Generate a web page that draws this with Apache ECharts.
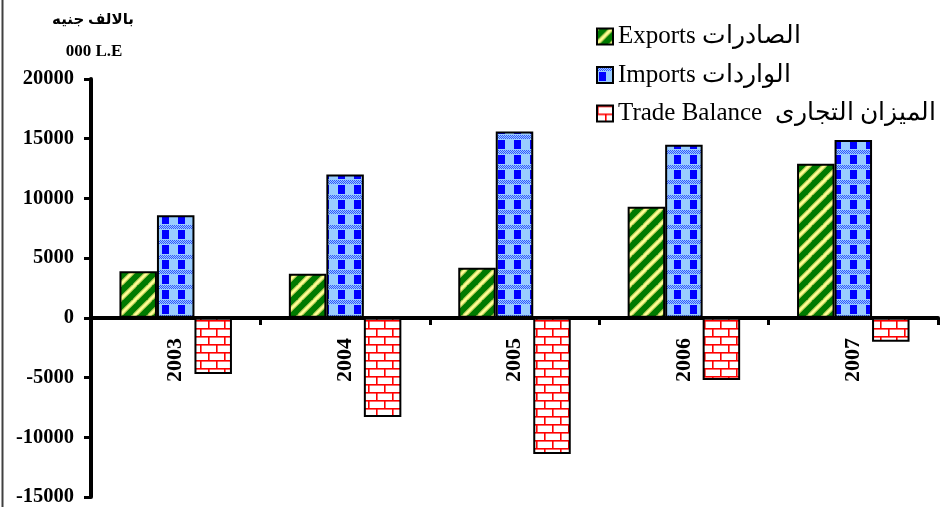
<!DOCTYPE html>
<html>
<head>
<meta charset="utf-8">
<script src="https://cdn.jsdelivr.net/npm/echarts@6/dist/echarts.min.js"></script>
<style>html,body{margin:0;padding:0;background:#fff}#c{width:941px;height:507px}</style>
</head>
<body>
<div id="c"></div>
<script>
var years = ['2003', '2004', '2005', '2006', '2007'];
var exportsData = [3900, 3700, 4200, 9300, 12900];
var importsData = [8600, 12000, 15600, 14500, 14900];
var balanceData = [-4700, -8300, -11400, -5200, -2000];
var seriesNames = ['Exports الصادرات', 'Imports الواردات', 'Trade Balance  الميزان التجارى'];
var unitAr = 'بالالف جنيه';
var unitEn = '000 L.E';

function makeCanvas(w, h) {
  var c = document.createElement('canvas');
  c.width = w; c.height = h;
  return c;
}
// green with yellow diagonal stripes
function exportsPattern() {
  var s = 15, c = makeCanvas(s, s), g = c.getContext('2d');
  g.fillStyle = '#007a00'; g.fillRect(0, 0, s, s);
  g.strokeStyle = '#c8d860'; g.lineWidth = 4.5;
  for (var k = -1; k <= 1; k++) {
    g.beginPath(); g.moveTo(k * s - 1, s + 1); g.lineTo(k * s + s + 1, -1); g.stroke();
  }
  g.strokeStyle = '#ffff99'; g.lineWidth = 2;
  for (var k2 = -1; k2 <= 1; k2++) {
    g.beginPath(); g.moveTo(k2 * s - 1, s + 1); g.lineTo(k2 * s + s + 1, -1); g.stroke();
  }
  return c;
}
// light blue with blue squares and dotted bands
function importsPattern() {
  var w = 16, h = 15, c = makeCanvas(w, h), g = c.getContext('2d');
  g.fillStyle = '#99ccff'; g.fillRect(0, 0, w, h);
  g.fillStyle = '#3355ff';
  for (var y = 0; y < 4; y++) {
    for (var x = 0; x < w; x++) {
      if ((x + y) % 2 === 0) g.fillRect(x, y, 1, 1);
    }
  }
  g.fillStyle = '#0000ff';
  g.fillRect(2, 5, 7, 9);
  return c;
}
// white with red bricks
function balancePattern() {
  var w = 16, h = 16, c = makeCanvas(w, h), g = c.getContext('2d');
  g.fillStyle = '#ffffff'; g.fillRect(0, 0, w, h);
  g.fillStyle = '#ff0000';
  g.fillRect(0, 0, w, 1.6);
  g.fillRect(0, 8, w, 1.6);
  g.fillRect(0, 0, 1.6, 8);
  g.fillRect(8, 8, 1.6, 8);
  return c;
}

var chart = echarts.init(document.getElementById('c'));
var font = "'Liberation Serif', 'Times New Roman', 'DejaVu Serif', serif";
var barBase = { borderColor: '#000', borderWidth: 2 };

chart.setOption({
  backgroundColor: '#fff',
  animation: false,
  grid: { left: 91, right: 3, top: 79, bottom: 10, containLabel: false, outerBoundsMode: 'none' },
  legend: {
    orient: 'vertical',
    left: 591,
    top: 19,
    itemWidth: 16,
    itemHeight: 16,
    itemGap: 13.5,
    icon: 'rect',
    textStyle: { fontFamily: font, fontSize: 25, lineHeight: 25, color: '#000' },
    data: seriesNames
  },
  xAxis: {
    type: 'category',
    data: years,
    position: 'bottom',
    offset: -179,
    axisLine: { onZero: false, lineStyle: { color: '#000', width: 4 } },
    axisTick: { show: true, length: 7, lineStyle: { color: '#000', width: 3 }, interval: 0 },
    axisLabel: { rotate: 90, margin: 20, fontFamily: font, fontWeight: 'bold', fontSize: 22, color: '#000', interval: 0, hideOverlap: false },
    splitLine: { show: false }
  },
  yAxis: {
    type: 'value',
    min: -15000, max: 20000, interval: 5000,
    axisLine: { show: true, lineStyle: { color: '#000', width: 4 } },
    axisTick: { show: true, length: 7, lineStyle: { color: '#000', width: 3 } },
    axisLabel: { margin: 17, fontFamily: font, fontWeight: 'bold', fontSize: 20.5, color: '#000',
      formatter: function (v) { return String(v); } },
    splitLine: { show: false }
  },
  graphic: [
    { type: 'line', shape: { x1: 2.5, y1: 0, x2: 2.5, y2: 507 }, style: { stroke: '#404040', lineWidth: 2 } },
    { type: 'text', x: 93, y: 20, style: { text: unitAr, align: 'center', verticalAlign: 'middle', font: "bold 15px 'Liberation Serif', 'DejaVu Sans', serif", fill: '#000' } },
    { type: 'text', x: 94, y: 52, style: { text: unitEn, align: 'center', verticalAlign: 'middle', font: "bold 17px 'Liberation Serif', serif", fill: '#000' } }
  ],
  series: [
    { name: seriesNames[0], type: 'bar', data: exportsData, barWidth: 37.5, barGap: '0%',
      itemStyle: Object.assign({ color: { image: exportsPattern(), repeat: 'repeat' } }, barBase) },
    { name: seriesNames[1], type: 'bar', data: importsData, barWidth: 37.5, barGap: '0%',
      itemStyle: Object.assign({ color: { image: importsPattern(), repeat: 'repeat' } }, barBase) },
    { name: seriesNames[2], type: 'bar', data: balanceData, barWidth: 37.5, barGap: '0%',
      itemStyle: Object.assign({ color: { image: balancePattern(), repeat: 'repeat' } }, barBase) }
  ]
});
</script>
</body>
</html>
